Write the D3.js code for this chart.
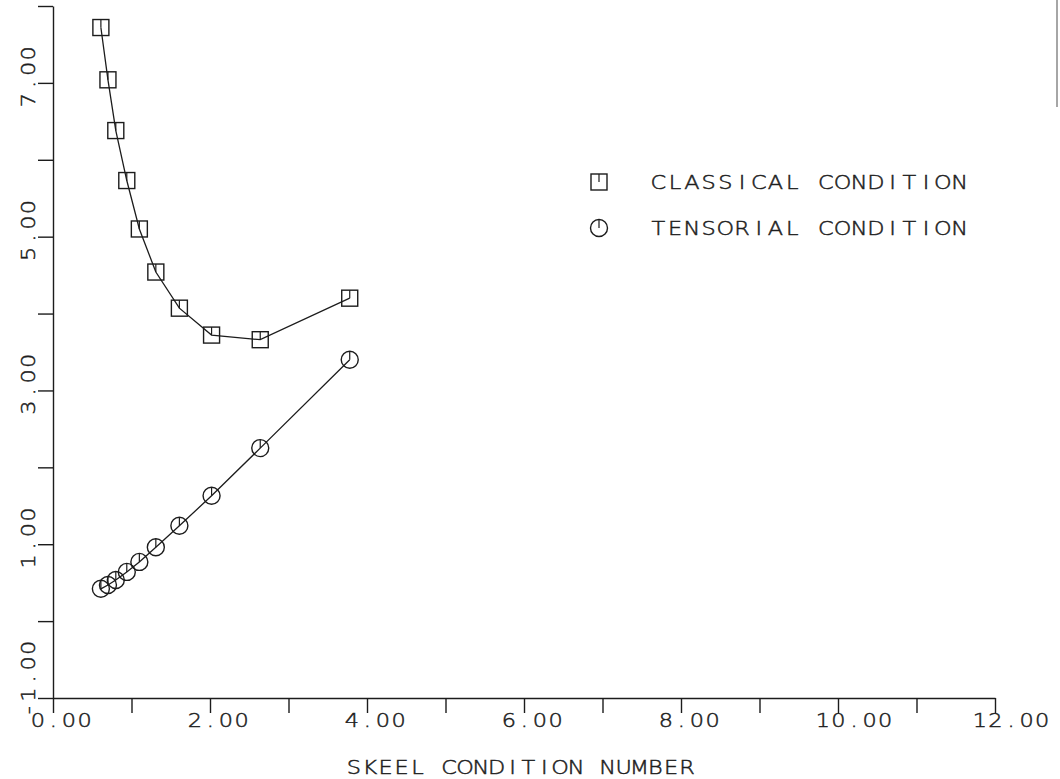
<!DOCTYPE html>
<html>
<head>
<meta charset="utf-8">
<script src="https://cdn.jsdelivr.net/npm/d3@7"></script>
<style>
  html, body { margin: 0; padding: 0; background: #fff; }
  svg { display: block; }
  text { font-family: "DejaVu Sans", sans-serif; font-weight: 200; font-size: 20px; fill: #1e1e1e; stroke: #1e1e1e; stroke-width: 0.5px; }
</style>
</head>
<body>
<script>
// ---- data ----
const skeel = [0.61, 0.70, 0.80, 0.94, 1.10, 1.31, 1.61, 2.02, 2.64, 3.78];
const classical = [7.72, 7.04, 6.38, 5.73, 5.10, 4.54, 4.07, 3.72, 3.66, 4.20];
const tensorial = [0.42, 0.47, 0.535, 0.64, 0.77, 0.96, 1.24, 1.63, 2.25, 3.40];
const xTicks = [0,1,2,3,4,5,6,7,8,9,10,11,12];
const xTickLabels = ["0.00","2.00","4.00","6.00","8.00","10.00","12.00"];
const xLabelValues = [0,2,4,6,8,10,12];
const yTicks = [-1,0,1,2,3,4,5,6,7,8];
const yLabelValues = [-1,1,3,5,7];
const yTickLabels = ["-1.00","1.00","3.00","5.00","7.00"];
const seriesNames = ["CLASSICAL CONDITION", "TENSORIAL CONDITION"];
const xTitle = "SKEEL CONDITION NUMBER";

const W = 1060, H = 779;
const ink = "#1c1c1c";
const pitch = 15.6; // plotter character pitch (px)
const stretch = 1.12; // plotter glyphs are a little wide
const svg = d3.select("body").append("svg").attr("width", W).attr("height", H);

const x = d3.scaleLinear().domain([0, 12]).range([53, 995]);
const y = d3.scaleLinear().domain([-1, 8]).range([698, 6]);

// axes
svg.append("g").attr("transform", `translate(0,${y(-1)})`)
  .call(d3.axisBottom(x).tickValues(xTicks).tickSize(15).tickSizeOuter(0).tickFormat(""));
svg.append("g").attr("transform", `translate(${x(0)},0)`)
  .call(d3.axisLeft(y).tickValues(yTicks).tickSize(15).tickSizeOuter(0).tickFormat(""));
svg.selectAll(".domain, .tick line").attr("stroke", ink).attr("stroke-width", 1.4);

// plotter-style monospaced text: each character placed in its own cell
function plotText(g, str, x0, y0, len, rotate) {
  const step = len / str.length;
  const t = g.append("text")
    .attr("transform", (rotate ? `translate(${x0},${y0}) rotate(-90)` : `translate(${x0},${y0})`) + ` scale(${stretch},1)`);
  t.selectAll("tspan").data(str.split("")).join("tspan")
    .attr("x", (c, i) => (i * step + step / 2) / stretch)
    .attr("text-anchor", "middle")
    .text(c => c);
  return t;
}

// x tick labels
const xl = svg.append("g");
xLabelValues.forEach((d, i) => {
  const s = xTickLabels[i];
  plotText(xl, s, x(d) - 23, 727, s.length * pitch, false);
});

// y tick labels (rotated)
const yl = svg.append("g");
yLabelValues.forEach((d, i) => {
  const s = yTickLabels[i];
  plotText(yl, s, 35, y(d) + (d < 0 ? 20 : 25), s.length * pitch, true);
});

// x axis title
plotText(svg.append("g"), xTitle, 346, 774, 349, false);

// series lines
const line = d3.line().x(d => x(d[0])).y(d => y(d[1]));
const cData = skeel.map((v, i) => [v, classical[i]]);
const tData = skeel.map((v, i) => [v, tensorial[i]]);
svg.append("path").datum(cData).attr("d", line).attr("fill", "none").attr("stroke", ink).attr("stroke-width", 1.3);
svg.append("path").datum(tData).attr("d", line).attr("fill", "none").attr("stroke", ink).attr("stroke-width", 1.3);

function square(g, cx, cy) {
  g.append("rect").attr("x", cx - 8).attr("y", cy - 8).attr("width", 16).attr("height", 16)
    .attr("fill", "none").attr("stroke", ink).attr("stroke-width", 1.4);
  g.append("line").attr("x1", cx).attr("x2", cx).attr("y1", cy - 8).attr("y2", cy)
    .attr("stroke", ink).attr("stroke-width", 1.2);
}
function circle(g, cx, cy) {
  g.append("circle").attr("cx", cx).attr("cy", cy).attr("r", 8.5)
    .attr("fill", "none").attr("stroke", ink).attr("stroke-width", 1.4);
  g.append("line").attr("x1", cx).attr("x2", cx).attr("y1", cy - 8.5).attr("y2", cy)
    .attr("stroke", ink).attr("stroke-width", 1.2);
}
const mg = svg.append("g");
cData.forEach(d => square(mg, x(d[0]), y(d[1])));
tData.forEach(d => circle(mg, x(d[0]), y(d[1])));

// legend
const lg = svg.append("g");
square(lg, 599, 182);
plotText(lg, seriesNames[0], 650, 189, 318, false);
circle(lg, 599, 228);
plotText(lg, seriesNames[1], 650, 235, 318, false);

// scan edge at right
svg.append("line").attr("x1", 1057).attr("x2", 1057).attr("y1", 0).attr("y2", 107)
  .attr("stroke", "#888").attr("stroke-width", 1.5);
</script>
</body>
</html>
